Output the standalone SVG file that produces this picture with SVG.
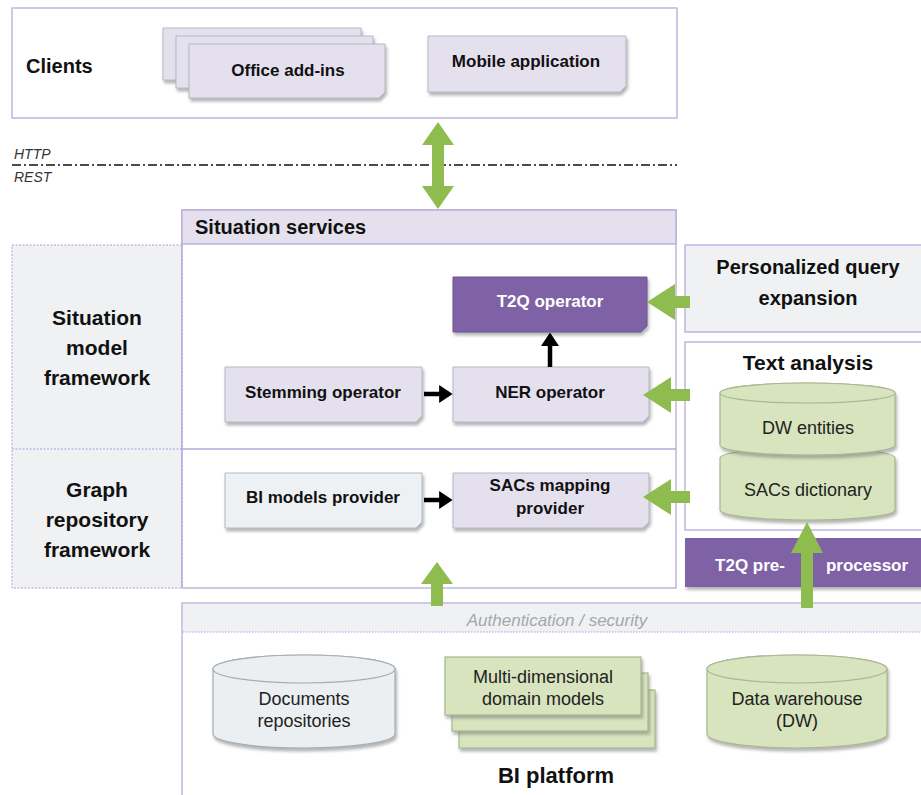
<svg xmlns="http://www.w3.org/2000/svg" width="921" height="795" viewBox="0 0 921 795">
<style>
  .frame{fill:#ffffff;stroke:#b6aad9;stroke-width:1.3}
  .panel{fill:#eff1f3;stroke:#a9a0d8;stroke-width:1;stroke-dasharray:2 1.5}
  .node{fill:#e5e0ee;stroke:#b4b9c4;stroke-width:1;filter:url(#sh)}
  .gnode{fill:#eef1f3;stroke:#b4b9c4;stroke-width:1;filter:url(#sh)}
  .pnode{fill:#7f62a6;stroke:#6d5494;stroke-width:1;filter:url(#sh)}
  .green{fill:#d7e4bd;stroke:#a9b892;stroke-width:1.2;filter:url(#sh)}
  .grey{fill:#eceff1;stroke:#a7adb4;stroke-width:1.2;filter:url(#sh)}
  .b{font-family:"Liberation Sans",Arial,sans-serif;font-weight:bold;fill:#111}
  .r{font-family:"Liberation Sans",Arial,sans-serif;fill:#222}
  .w{font-family:"Liberation Sans",Arial,sans-serif;font-weight:bold;fill:#ffffff}
  .it{font-family:"Liberation Sans",Arial,sans-serif;font-style:italic}
  .garrow{fill:#8fbc4f}
</style>
<defs>
  <filter id="sh" x="-10%" y="-10%" width="125%" height="135%">
    <feDropShadow dx="1.5" dy="3" stdDeviation="1.5" flood-color="#7a7a7a" flood-opacity="0.55"/>
  </filter>
  <marker id="blk" markerWidth="4" markerHeight="4" refX="2.2" refY="2" orient="auto" markerUnits="strokeWidth">
    <path d="M0,0 L3,2 L0,4 Z" fill="#000"/>
  </marker>
</defs>

<!-- Clients -->
<g id="clients">
  <rect class="frame" x="12" y="8" width="665" height="110"/>
  <text class="b" x="26" y="73" font-size="20">Clients</text>
</g>
<g id="office-addins">
  <path class="node" d="M163,28 H361 V74 L355,80 H163 Z"/>
  <path class="node" d="M176,36 H373 V82 L367,88 H176 Z"/>
  <path class="node" d="M189,44 H385 V92 L379,98 H189 Z"/>
  <text class="b" x="288" y="76" font-size="17" text-anchor="middle">Office add-ins</text>
</g>
<g id="mobile">
  <path class="node" d="M428,36 H626 V86 L620,92 H428 Z"/>
  <text class="b" x="526" y="67" font-size="17" text-anchor="middle">Mobile application</text>
</g>

<!-- HTTP / REST -->
<g id="protocol">
  <line x1="12" y1="165" x2="677" y2="165" stroke="#111" stroke-width="1.4" stroke-dasharray="9 3 2 3"/>
  <text class="it" x="14" y="159" font-size="14" fill="#333">HTTP</text>
  <text class="it" x="14" y="182" font-size="14" fill="#333">REST</text>
</g>

<!-- Left panel -->
<g id="left-panel">
  <rect class="panel" x="12" y="245" width="170" height="343"/>
  <line x1="12" y1="449" x2="182" y2="449" stroke="#a9a0d8" stroke-width="1" stroke-dasharray="2 1.5"/>
</g>
<g id="situation-model-framework">
  <text class="b" x="97" y="325" font-size="21" text-anchor="middle">Situation</text>
  <text class="b" x="97" y="355" font-size="21" text-anchor="middle">model</text>
  <text class="b" x="97" y="385" font-size="21" text-anchor="middle">framework</text>
</g>
<g id="graph-repository-framework">
  <text class="b" x="97" y="497" font-size="21" text-anchor="middle">Graph</text>
  <text class="b" x="97" y="527" font-size="21" text-anchor="middle">repository</text>
  <text class="b" x="97" y="557" font-size="21" text-anchor="middle">framework</text>
</g>

<!-- Situation services -->
<g id="situation-services">
  <rect class="frame" x="182" y="210" width="494" height="378"/>
  <rect x="182" y="210" width="494" height="34" fill="#e5e0ee" stroke="#b6aad9" stroke-width="1.3"/>
  <line x1="182" y1="449" x2="676" y2="449" stroke="#b6aad9" stroke-width="1.3"/>
  <line x1="182" y1="245" x2="182" y2="588" stroke="#a9a0d8" stroke-width="1" stroke-dasharray="2 1.5"/>
  <text class="b" x="195" y="234" font-size="20">Situation services</text>
</g>

<g id="t2q-operator">
  <path class="pnode" d="M453,277 H647 V326 L641,332 H453 Z"/>
  <text class="w" x="550" y="307" font-size="17" text-anchor="middle">T2Q operator</text>
</g>
<g id="stemming-operator">
  <path class="node" d="M225,367 H422 V416 L416,422 H225 Z"/>
  <text class="b" x="323" y="398" font-size="17" text-anchor="middle">Stemming operator</text>
</g>
<g id="ner-operator">
  <path class="node" d="M453,367 H649 V416 L643,422 H453 Z"/>
  <text class="b" x="550" y="398" font-size="17" text-anchor="middle">NER operator</text>
</g>
<g id="bi-models-provider">
  <path class="gnode" d="M225,473 H422 V522 L416,528 H225 Z"/>
  <text class="b" x="323" y="503" font-size="17" text-anchor="middle">BI models provider</text>
</g>
<g id="sacs-mapping-provider">
  <path class="node" d="M453,473 H649 V522 L643,528 H453 Z"/>
  <text class="b" x="550" y="491" font-size="17" text-anchor="middle">SACs mapping</text>
  <text class="b" x="550" y="514" font-size="17" text-anchor="middle">provider</text>
</g>

<!-- Right column -->
<g id="personalized-query-expansion">
  <rect x="685" y="245" width="240" height="87" fill="#eff1f3" stroke="#b6aad9" stroke-width="1.3"/>
  <text class="b" x="808" y="274" font-size="20" text-anchor="middle">Personalized query</text>
  <text class="b" x="808" y="305" font-size="20" text-anchor="middle">expansion</text>
</g>
<g id="text-analysis">
  <rect class="frame" x="685" y="342" width="240" height="188"/>
  <text class="b" x="808" y="370" font-size="21" text-anchor="middle">Text analysis</text>
</g>
<g id="sacs-dictionary">
  <path class="green" d="M720,458 A87.5,10 0 0 1 895,458 V510 A87.5,10 0 0 1 720,510 Z"/>
  <text class="r" x="808" y="496" font-size="18" text-anchor="middle">SACs dictionary</text>
</g>
<g id="dw-entities">
  <path class="green" d="M720,393 A87.5,10 0 0 1 895,393 V445 A87.5,10 0 0 1 720,445 Z"/>
  <ellipse cx="807.5" cy="393" rx="87.5" ry="10" fill="#d7e4bd" stroke="#a9b892" stroke-width="1.2"/>
  <text class="r" x="808" y="434" font-size="18" text-anchor="middle">DW entities</text>
</g>
<g id="t2q-preprocessor">
  <rect x="685" y="538" width="240" height="49" fill="#7f62a6" filter="url(#sh)"/>
  <text class="w" x="750" y="571" font-size="17" text-anchor="middle">T2Q pre-</text>
  <text class="w" x="867" y="571" font-size="17" text-anchor="middle">processor</text>
</g>

<!-- BI platform -->
<g id="bi-platform">
  <rect class="frame" x="182" y="603" width="743" height="195"/>
  <rect x="183" y="604" width="741" height="28" fill="#eff1f3"/>
  <line x1="183" y1="632" x2="921" y2="632" stroke="#a9a0d8" stroke-width="1" stroke-dasharray="1.5 1.5"/>
  <text class="it" x="557" y="626" font-size="17" fill="#a3a8ad" text-anchor="middle">Authentication / security</text>
  <text class="b" x="556" y="783" font-size="22" text-anchor="middle">BI platform</text>
</g>
<g id="documents-repositories">
  <path class="grey" d="M213,669 A91,14 0 0 1 395,669 V734 A91,14 0 0 1 213,734 Z"/>
  <ellipse cx="304" cy="669" rx="91" ry="14" fill="#eceff1" stroke="#a7adb4" stroke-width="1.2"/>
  <text class="r" x="304" y="705" font-size="18" text-anchor="middle">Documents</text>
  <text class="r" x="304" y="727" font-size="18" text-anchor="middle">repositories</text>
</g>
<g id="multidimensional-models">
  <rect class="green" x="459" y="690" width="196" height="58"/>
  <rect class="green" x="452" y="673" width="196" height="58"/>
  <rect class="green" x="445" y="657" width="196" height="58"/>
  <text class="r" x="543" y="683" font-size="18" text-anchor="middle">Multi-dimensional</text>
  <text class="r" x="543" y="705" font-size="18" text-anchor="middle">domain models</text>
</g>
<g id="data-warehouse">
  <path class="green" d="M707,669 A90,14 0 0 1 887,669 V734 A90,14 0 0 1 707,734 Z"/>
  <ellipse cx="797" cy="669" rx="90" ry="14" fill="#d7e4bd" stroke="#a9b892" stroke-width="1.2"/>
  <text class="r" x="797" y="705" font-size="18" text-anchor="middle">Data warehouse</text>
  <text class="r" x="797" y="727" font-size="18" text-anchor="middle">(DW)</text>
</g>

<!-- Connectors -->
<g id="connectors">
  <path class="garrow" d="M438,122 L454,145 H444 V186 H454 L438,209 L422,186 H432 V145 H422 Z"/>
  <path class="garrow" d="M647,302 L675,284 V296 H690 V308 H675 V320 Z"/>
  <path class="garrow" d="M643,395 L671,377 V389 H690 V401 H671 V413 Z"/>
  <path class="garrow" d="M643,497 L671,479 V491 H690 V503 H671 V515 Z"/>
  <path class="garrow" d="M437,562 L453,584 H443 V606 H431 V584 H421 Z"/>
  <path class="garrow" d="M807,522 L823,553 H813 V608 H801 V553 H791 Z"/>
  <line x1="424" y1="394" x2="449" y2="394" stroke="#000" stroke-width="4.5" marker-end="url(#blk)"/>
  <line x1="424" y1="500" x2="449" y2="500" stroke="#000" stroke-width="4.5" marker-end="url(#blk)"/>
  <line x1="550" y1="367" x2="550" y2="336" stroke="#000" stroke-width="4.5" marker-end="url(#blk)"/>
</g>
</svg>
